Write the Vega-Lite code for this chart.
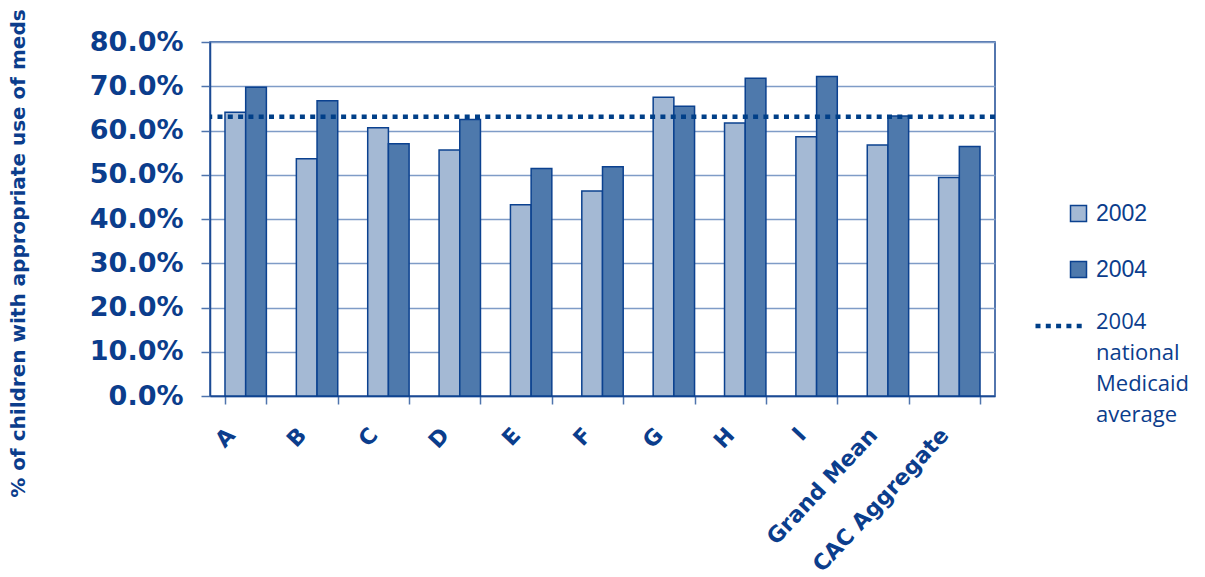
{
  "$schema": "https://vega.github.io/schema/vega-lite/v6.json",
  "width": 785,
  "height": 354,
  "autosize": {"type": "none"},
  "padding": {"left": 210, "top": 42, "right": 210, "bottom": 181},
  "background": "white",
  "config": {
    "view": {"stroke": "#1b4a94", "strokeWidth": 1.5},
    "font": "DejaVu Sans"
  },
  "layer": [
    {
      "data": {
        "values": [
          {"site": "A", "year": "2002", "value": 0.641},
          {"site": "A", "year": "2004", "value": 0.698},
          {"site": "B", "year": "2002", "value": 0.536},
          {"site": "B", "year": "2004", "value": 0.667},
          {"site": "C", "year": "2002", "value": 0.606},
          {"site": "C", "year": "2004", "value": 0.570},
          {"site": "D", "year": "2002", "value": 0.556},
          {"site": "D", "year": "2004", "value": 0.625},
          {"site": "E", "year": "2002", "value": 0.432},
          {"site": "E", "year": "2004", "value": 0.514},
          {"site": "F", "year": "2002", "value": 0.463},
          {"site": "F", "year": "2004", "value": 0.518},
          {"site": "G", "year": "2002", "value": 0.675},
          {"site": "G", "year": "2004", "value": 0.655},
          {"site": "H", "year": "2002", "value": 0.617},
          {"site": "H", "year": "2004", "value": 0.718},
          {"site": "I", "year": "2002", "value": 0.586},
          {"site": "I", "year": "2004", "value": 0.722},
          {"site": "Grand Mean", "year": "2002", "value": 0.567},
          {"site": "Grand Mean", "year": "2004", "value": 0.633},
          {"site": "CAC Aggregate", "year": "2002", "value": 0.494},
          {"site": "CAC Aggregate", "year": "2004", "value": 0.564}
        ]
      },
      "mark": {"type": "bar", "stroke": "#0b418f", "strokeWidth": 1.5},
      "encoding": {
        "x": {
          "field": "site",
          "type": "nominal",
          "sort": null,
          "scale": {"paddingInner": 0.42, "paddingOuter": 0.21},
          "axis": {
            "title": null,
            "labelAngle": -47,
            "labelAlign": "right",
            "labelBaseline": "middle",
            "labelFont": "DejaVu Sans",
            "labelFontWeight": "bold",
            "labelFontSize": 22,
            "labelColor": "#0b3d8c",
            "labelPadding": 27,
            "labelOffset": -15,
            "labelLimit": 300,
            "tickBand": "extent",
            "tickSize": 8,
            "tickColor": "#4f74ad",
            "tickWidth": 1.5,
            "domainColor": "#1b4a94",
            "domainWidth": 1.5,
            "grid": false
          }
        },
        "xOffset": {"field": "year", "type": "nominal"},
        "y": {
          "field": "value",
          "type": "quantitative",
          "title": "% of children with appropriate use of meds",
          "scale": {"domain": [0, 0.8], "nice": false},
          "axis": {
            "values": [0, 0.1, 0.2, 0.3, 0.4, 0.5, 0.6, 0.7, 0.8],
            "format": ".1%",
            "labelFont": "DejaVu Sans",
            "labelFontWeight": "bold",
            "labelFontSize": 27,
            "labelColor": "#0b3d8c",
            "labelPadding": 18,
            "tickSize": 9,
            "tickColor": "#4f74ad",
            "tickWidth": 1.5,
            "domainColor": "#1b4a94",
            "domainWidth": 1.5,
            "gridColor": "#7f9cc7",
            "gridWidth": 1.5,
            "titleFont": "DejaVu Sans",
            "titleFontSize": 20,
            "titleFontWeight": "bold",
            "titleColor": "#0b3d8c",
            "titleX": -182,
            "titleY": 211,
            "titleAngle": -90,
            "titleAlign": "center",
            "titleBaseline": "bottom"
          }
        },
        "fill": {
          "field": "year",
          "type": "nominal",
          "scale": {"domain": ["2002", "2004"], "range": ["#a4b9d4", "#4e79ac"]},
          "legend": {
            "title": null,
            "orient": "none",
            "legendX": 857,
            "legendY": 160,
            "padding": 0,
            "symbolType": "square",
            "symbolSize": 256,
            "symbolStrokeColor": "#0b418f",
            "symbolStrokeWidth": 1.5,
            "labelFont": "Liberation Sans",
            "labelFontSize": 23,
            "labelColor": "#0b3d8c",
            "labelOffset": 6,
            "rowPadding": 32
          }
        }
      }
    },
    {
      "data": {"values": [{"avg": 0.631, "label": "2004 national Medicaid average"}]},
      "mark": {"type": "rule", "color": "#003f88", "strokeWidth": 4.5},
      "encoding": {
        "y": {"field": "avg", "type": "quantitative", "title": "% of children with appropriate use of meds"},
        "strokeDash": {
          "field": "label",
          "type": "nominal",
          "scale": {"range": [[5, 5.3]]},
          "legend": {
            "title": null,
            "orient": "none",
            "legendX": 823,
            "legendY": 258,
            "padding": 0,
            "symbolType": "stroke",
            "symbolSize": 2209,
            "symbolStrokeColor": "#003f88",
            "symbolStrokeWidth": 4.5,
            "labelFont": "Open Sans",
            "labelFontSize": 22,
            "labelColor": "#0b3d8c",
            "labelOffset": 11,
            "labelLimit": 300,
            "labelBaseline": "top",
            "labelExpr": "split(datum.label, ' ')",
            "encode": {"labels": {"update": {"lineHeight": {"value": 31}, "dy": {"value": -14}}}}
          }
        }
      }
    }
  ]
}
